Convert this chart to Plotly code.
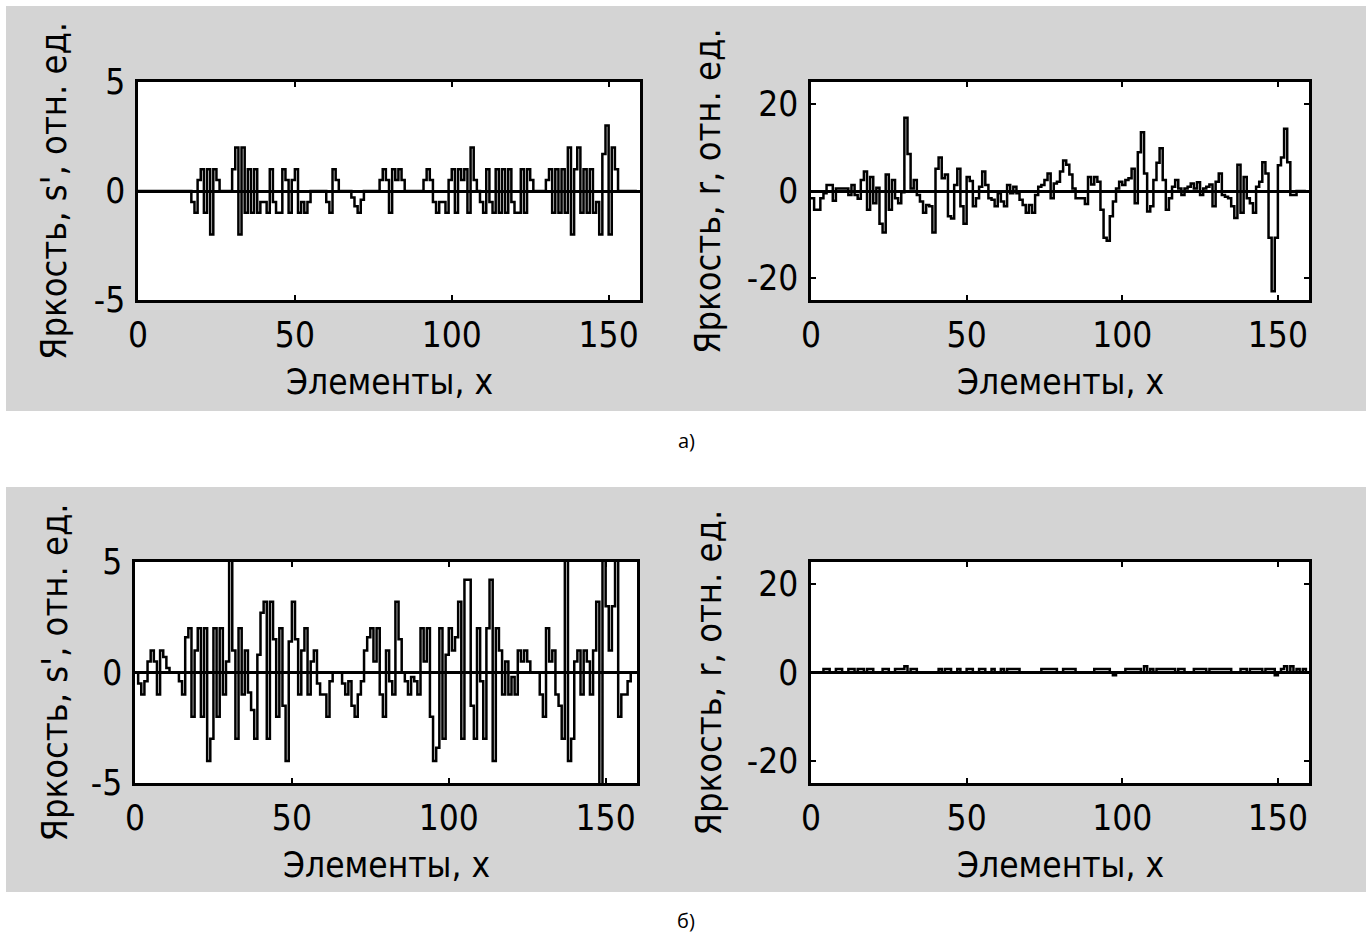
import plotly.graph_objects as go

# ---------------- data ----------------
elements = list(range(160))

# a) left: s'
s_a = [
    0, 0, 0, 0, 0, 0, 0, 0, 0, 0,
    0, 0, 0, 0, 0, 0, 0, -0.5, -1, 0.5,
    1, -1, 1, -2, 1, 0.5, 0, 0, 0, 0,
    1, 2, -2, 2, -1, 1, -1, 1, -1, -0.5,
    -0.5, -1, 1, -0.5, -1, -1, 1, 0.5, -1, 0.5,
    1, -1, -0.5, -1, -0.5, 0, 0, 0, 0, 0,
    -0.5, -1, 1, 0.5, 0, 0, 0, 0, -0.3, -0.7,
    -1, -0.4, 0, 0, 0, 0, 0, 0.5, 1, 0.5,
    -1, 1, 0.5, 1, 0.5, 0, 0, 0, 0, 0,
    0, 0.5, 1, 0.5, -0.5, -1, -0.5, -0.5, -1, 0.5,
    1, -1, 1, 0.5, 1, -1, 2, 0.5, 0, -0.5,
    -1, 1, -0.5, -1, 1, -1, 1, -1, 1, -0.5,
    -1, -1, 1, -1, 1, 0.5, 0, 0, 0, 0,
    0.5, 1, -1, 1, -1, 1, -1, 2, -2, 1,
    2, -1, 1, -1, 1, -1, -0.5, -2, 1.7, 3,
    -2, 2, 1, 0, 0, 0, 0, 0, 0, 0,
]

# a) right: r
r_a = [
    -1.65, -4.3, -4.3, -1.65, -0.5, 1.35, 1.35, -2.25, 0.6, 0.6,
    0.6, 0.6, -0.9, 1.35, -0.9, -1.8, 2.5, 4.5, -4.3, 3.2,
    -2.8, 0.75, -7.5, -9.5, 3.8, -4.3, 2.5, -1.65, -2.8, -0.3,
    16.8, 8.5, 0.6, 2.5, -0.9, -2.4, -5, -3.2, -3.5, -9.5,
    5.1, 7.7, 2.9, 3.8, -5.8, -6.3, 1.35, 5.1, -3.5, -7.5,
    3.2, 2.3, -3.5, -1.65, 1, 4.5, 1.35, -1.65, -2, -3.5,
    -0.5, -2.4, -3.5, 1.35, -0.5, 1, -0.5, -2, -3.2, -5,
    -3.2, -5, -0.9, 1, 1.35, 2.5, 4, -1.65, 1.7, 2.1,
    4.5, 7, 6, 3.8, 0.6, -1.65, -1.65, -1.65, -3, 3.2,
    1.5, 3.2, 2.1, -4.3, -10.7, -11.4, -5.8, -2.4, 0.6, 2.1,
    1.35, 2.5, 2.9, 5.1, -2.8, 8.9, 13.5, 4, -4.7, -3.5,
    2.5, 6.5, 9.8, 2.5, -4.3, -1.65, 1, 2.5, 0.6, -0.9,
    0.6, 1, 1.7, 0.6, 2, -0.9, 0.6, 1, 1.5, -3.5,
    2.1, 4, -0.9, -1.3, -1.65, -3.5, -6.2, 6, -5, 3.2,
    -1.65, -2.8, -5, 1, 2.1, 6.6, 4, -10.7, -23, -10.7,
    5.9, 7.7, 14.3, 6.6, -0.9, -0.9, 0, 0, 0, 0,
]

# б) left: s'
s_b = [
    0, -0.5, -1, -0.4, 0.5, 1, 0.5, -1, 1, 0.7,
    0.2, 0, 0, 0, -0.4, -1, 1.6, 2, -2, 1,
    2, -2, 2, -4, -3, 2, -2, 2, -1, 0.5,
    8, 1, -3, 2, -1, 1, -0.9, -1.7, -3, 0.8,
    2.7, 3.2, -3, 3.2, 1.5, -2, 2, -1.5, -4, 1.4,
    3.2, 1.5, -1, 1, 2, -1, 0.5, 1, -0.5, -1,
    -1, -2, -0.4, 0, 0, 0, -0.5, -1, -0.4, -1.5,
    -2, -1, -0.4, 1, 1.6, 2, 0.5, 2, -1, -2,
    1, -0.4, -1, 3.2, 1.5, 0, -0.4, -1, -0.2, -0.4,
    -1, 2, 0.5, 2, -2, -4, -3.4, 2, -3, 0.8,
    2, 1, 1.6, 3.2, -3, 4.2, 4.2, -1.5, -3, 2,
    -0.4, -3, 2, 4.2, -4, 2, 1, -1, 0.5, -1,
    -0.2, -1, 1, 0.5, 1, 0.5, 0, 0, 0, -1,
    -2, 2, 0.5, 1, -1, -1.5, -3, 6, -4, -3,
    0.5, 1, -1, 1, 0.5, -1, 1, 3.2, -7, 7,
    3, 1, 3, 7, -2, -1, -1, -0.4, 0, 0,
]

# б) right: r
r_b = [
    0, 0, 0, 0, 0.8, 0.8, 0, 0, 0.8, 0.8,
    0, 0, 0.8, 0.8, 0, 0.8, 0.8, 0, 0.8, 0.8,
    0, 0, 0, 0.8, 0.8, 0, 0, 0.8, 0.8, 0.8,
    1.4, 0, 0.8, 0.8, 0, 0, 0, 0, 0, 0,
    0, 0.8, 0, 0.8, 0.8, 0, 0, 0.8, 0, 0,
    0.8, 0.8, 0, 0, 0.8, 0.8, 0, 0, 0.8, 0,
    0, 0.8, 0, 0.8, 0.8, 0.8, 0.8, 0, 0, 0,
    0, 0, 0, 0, 0.8, 0.8, 0.8, 0.8, 0.8, 0,
    0, 0.8, 0.8, 0.8, 0.8, 0, 0, 0, 0, 0,
    0, 0.8, 0.8, 0.8, 0.8, 0.8, 0, -0.6, 0, 0,
    0, 0.8, 0.8, 0.8, 0.8, 0.8, 0, 1.4, 0, 0.8,
    0, 0.8, 0.8, 0.8, 0.8, 0.8, 0.8, 0, 0.8, 0.8,
    0, 0, 0, 0.8, 0.8, 0.8, 0.8, 0, 0.8, 0.8,
    0.8, 0.8, 0.8, 0.8, 0.8, 0, 0, 0, 0.8, 0.8,
    0, 0.8, 0.8, 0.8, 0.8, 0, 0.8, 0.8, 0.8, -0.6,
    0, 0.8, 1.4, 0, 1.4, 0, 0.8, 0, 0.8, 0,
]

x_ticks = [0, 50, 100, 150]
x_tick_text = ["0", "50", "100", "150"]
s_ticks = [-5, 0, 5]
s_tick_text = ["-5", "0", "5"]
r_ticks = [-20, 0, 20]
r_tick_text = ["-20", "0", "20"]
s_range = [-5, 5]
r_range = [-25, 25]
x_range = [0, 160]

x_title = "Элементы, x"
s_title = "Яркость, s', отн. ед."
r_title = "Яркость, r, отн. ед."
panel_labels = ["а)", "б)"]

# ---------------- layout helpers ----------------
W, H = 1371, 938
FONT = "Liberation Sans Narrow, DejaVu Sans Condensed, Arial Narrow, sans-serif"
FS = 35
GRAY = "#d4d4d4"


def fx(p):
    return p / W


def fy(p):
    return 1 - p / H


# pixel boxes (left, right, top, bottom)
boxes = [
    (138, 640, 82, 300),
    (811, 1309, 82, 300),
    (135, 637, 562, 783),
    (811, 1309, 562, 783),
]
series = [s_a, r_a, s_b, r_b]
yranges = [s_range, r_range, s_range, r_range]
yticks = [s_ticks, r_ticks, s_ticks, r_ticks]
yticktext = [s_tick_text, r_tick_text, s_tick_text, r_tick_text]
ytitles = [s_title, r_title, s_title, r_title]
ytitle_x = [54, 708, 54, 708]

fig = go.Figure()
layout = dict(
    width=W, height=H, autosize=False,
    margin=dict(l=0, r=0, t=0, b=0, pad=0),
    paper_bgcolor="white",
    plot_bgcolor="white",
    showlegend=False,
    shapes=[],
    annotations=[],
)

# gray figure panels
for top, bot in [(6, 411), (487, 892)]:
    layout["shapes"].append(dict(
        type="rect", xref="paper", yref="paper",
        x0=fx(6), x1=fx(1366), y0=fy(bot), y1=fy(top),
        fillcolor=GRAY, line=dict(width=0), layer="below",
    ))

tickfont = dict(family=FONT, size=FS, color="black")

for i, (box, ys) in enumerate(zip(boxes, series)):
    k = "" if i == 0 else str(i + 1)
    l, r, t, b = box
    xa = "x" + k
    ya = "y" + k
    fig.add_trace(go.Scatter(
        x=elements, y=ys, mode="lines",
        line=dict(color="black", width=2.5, shape="hv"),
        xaxis=xa, yaxis=ya, hoverinfo="skip",
    ))
    common = dict(
        showline=True, linecolor="black", linewidth=2.5, mirror="allticks",
        ticks="inside", ticklen=5, tickwidth=2, tickcolor="black",
        showgrid=False, tickfont=tickfont, fixedrange=True, automargin=False,
    )
    layout["xaxis" + k] = dict(
        common, domain=[fx(l), fx(r)], range=x_range, anchor=ya,
        tickvals=x_ticks, ticktext=x_tick_text, zeroline=False,
        ticklabelstandoff=2,
    )
    layout["yaxis" + k] = dict(
        common, domain=[fy(b), fy(t)], range=yranges[i], anchor=xa,
        tickvals=yticks[i], ticktext=yticktext[i], zeroline=True,
        zerolinecolor="black", zerolinewidth=3, ticklabelstandoff=3,
    )
    # white axes background
    layout["shapes"].append(dict(
        type="rect", xref="paper", yref="paper",
        x0=fx(l), x1=fx(r), y0=fy(b), y1=fy(t),
        fillcolor="white", line=dict(width=0), layer="below",
    ))
    # axis titles
    layout["annotations"].append(dict(
        text=x_title, xref="paper", yref="paper",
        x=fx((l + r) / 2), y=fy(b + 82), xanchor="center", yanchor="middle",
        showarrow=False, font=tickfont,
    ))
    layout["annotations"].append(dict(
        text=ytitles[i], xref="paper", yref="paper",
        x=fx(ytitle_x[i]), y=fy((t + b) / 2), xanchor="center", yanchor="middle",
        textangle=-90, showarrow=False, font=dict(tickfont, size=36),
    ))

for lab, yy in zip(panel_labels, [440, 920]):
    layout["annotations"].append(dict(
        text=lab, xref="paper", yref="paper", x=fx(686), y=fy(yy),
        xanchor="center", yanchor="middle", showarrow=False,
        font=dict(family="Open Sans, Noto Sans, sans-serif", size=20, color="black"),
    ))

fig.update_layout(**layout)
fig.write_html(
    "out.html",
    config={"responsive": False, "displayModeBar": False},
    post_script="document.body.style.margin='0';document.body.style.padding='0';document.body.style.overflow='hidden';",
)
